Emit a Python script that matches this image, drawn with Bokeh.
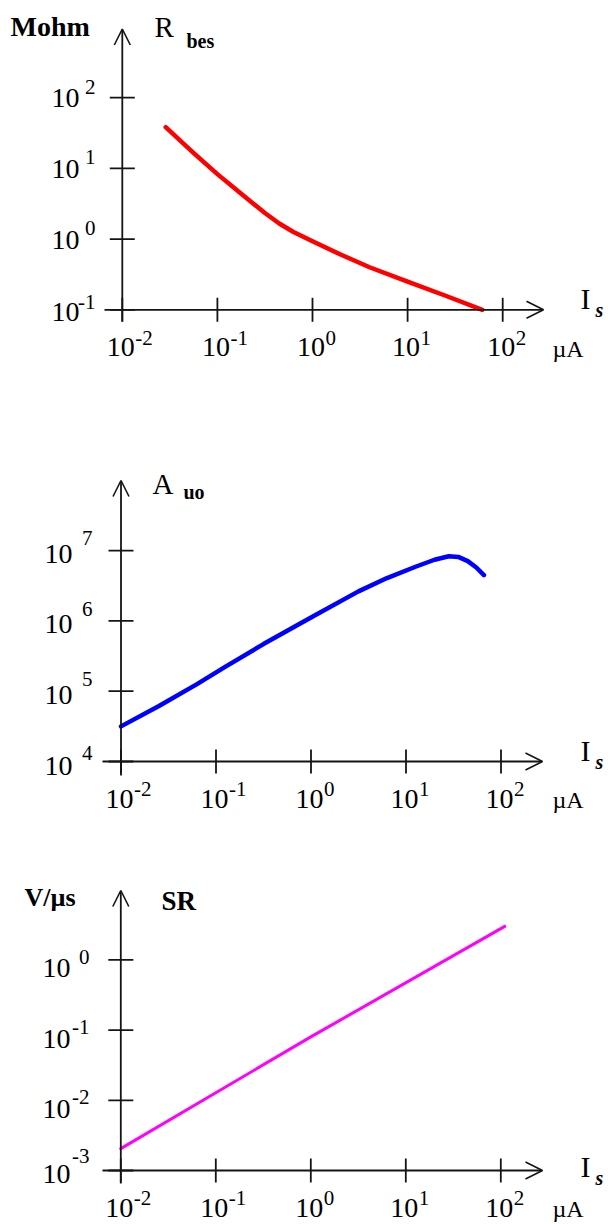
import math
from bokeh.plotting import figure
from bokeh.layouts import column
from bokeh.models import Range1d, Label, Arrow, OpenHead
from bokeh.core.properties import value
from bokeh.embed import file_html
from bokeh.resources import INLINE

# ---------------- data ----------------
x_ticks = [0.01, 0.1, 1, 10, 100]
x_tick_exps = ["-2", "-1", "0", "1", "2"]

# Panel 1: R_bes [Mohm] vs I_s [uA]
rbes_is = [0.0286, 0.056, 0.1, 0.178, 0.316, 0.447, 0.631, 1.0, 2.0, 3.98, 10, 25.1, 61.1]
rbes = [38.3, 16.6, 8.3, 4.37, 2.34, 1.66, 1.26, 0.93, 0.60, 0.40, 0.25, 0.158, 0.10]
rbes_y_ticks = [0.1, 1, 10, 100]
rbes_y_exps = ["-1", "0", "1", "2"]

# Panel 2: A_uo vs I_s [uA]
auo_is = [0.01, 0.0251, 0.0631, 0.126, 0.316, 1.0, 3.16, 6.31, 12.6, 19.95, 28.2, 35.5, 44.7, 55.0, 66.1]
auo = [3.16e4, 6.17e4, 1.26e5, 2.24e5, 4.68e5, 1.12e6, 2.63e6, 4.07e6, 5.89e6, 7.41e6,
       8.32e6, 8.13e6, 7.08e6, 5.75e6, 4.47e6]
auo_y_ticks = [1e4, 1e5, 1e6, 1e7]
auo_y_exps = ["4", "5", "6", "7"]

# Panel 3: SR [V/us] vs I_s [uA]
sr_is = [0.01, 1.0, 110]
sr = [0.00205, 0.08, 3.0]
sr_y_ticks = [1e-3, 1e-2, 1e-1, 1]
sr_y_exps = ["-3", "-2", "-1", "0"]

# ---------------- style / layout ----------------
FONT = "Liberation Serif"
AX = "#141414"
W = 608
ORG = 0      # page origin (Bokeh's page template has no body margin)
KB = 0.34    # baseline correction (fraction of font size)
TEN = 28     # "10" font size
EXP = 21     # exponent font size


def build(top_w, H, x0w, xdec, yb_w, ydec, ytip_w, xtip_w, xleft_w, ybot_w,
          y_ticks, y_exps, ten_right, exp_right, ten_dy, exp_dy, ten_dy0, exp_dy0):
    yb_log = math.log10(y_ticks[0])
    lx_left = math.log10(x_ticks[0]) - (x0w - ORG) / xdec
    lx_right = lx_left + W / xdec
    ly_top = yb_log + (yb_w - top_w) / ydec
    ly_bot = ly_top - H / ydec
    p = figure(width=W, height=H, x_axis_type="log", y_axis_type="log",
               x_axis_location=None, y_axis_location=None,
               x_range=Range1d(10 ** lx_left, 10 ** lx_right),
               y_range=Range1d(10 ** ly_bot, 10 ** ly_top),
               toolbar_location=None, output_backend="svg", min_border=0)
    p.xgrid.grid_line_color = None
    p.ygrid.grid_line_color = None
    p.outline_line_color = None
    p.background_fill_color = "white"
    p.border_fill_color = "white"

    def X(wx):
        return 10 ** (lx_left + (wx - ORG) / xdec)

    def Y(wy):
        return 10 ** (ly_top - (wy - top_w) / ydec)

    x0 = x_ticks[0]
    y0 = y_ticks[0]
    # axes with open arrow heads
    p.add_layout(Arrow(x_start=X(xleft_w), y_start=y0, x_end=X(xtip_w), y_end=y0,
                       end=OpenHead(size=17, line_width=1.6, line_color=AX),
                       line_width=1.8, line_color=AX))
    p.add_layout(Arrow(x_start=x0, y_start=Y(ybot_w), x_end=x0, y_end=Y(ytip_w),
                       end=OpenHead(size=16, line_width=1.6, line_color=AX),
                       line_width=1.8, line_color=AX))
    # crossing tick marks
    p.scatter(x=[x0] * len(y_ticks), y=y_ticks, marker="dash", size=25,
              line_color=AX, line_width=1.8)
    p.scatter(x=x_ticks, y=[y0] * len(x_ticks), marker="dash", angle=math.pi / 2,
              size=24, line_color=AX, line_width=1.8)

    # y tick labels: "10" + exponent
    n = len(y_ticks)
    tdy = [ten_dy0] + [ten_dy] * (n - 1)
    edy = [exp_dy0] + [exp_dy] * (n - 1)
    for i in range(n):
        p.text(x=[x0], y=[y_ticks[i]], text=["10"], x_offset=ten_right - x0w,
               y_offset=tdy[i] - KB * TEN,
               text_align="right", text_baseline="alphabetic",
               text_font=value(FONT), text_font_size=f"{TEN}px", text_color="black")
        p.text(x=[x0], y=[y_ticks[i]], text=[y_exps[i]], x_offset=exp_right - x0w,
               y_offset=edy[i] - KB * EXP,
               text_align="right", text_baseline="alphabetic",
               text_font=value(FONT), text_font_size=f"{EXP}px", text_color="black")

    # x tick labels
    p.text(x=x_ticks, y=[y0] * len(x_ticks), text=["10"] * len(x_ticks),
           x_offset=-1.5, y_offset=47 - KB * TEN, text_align="center", text_baseline="alphabetic",
           text_font=value(FONT), text_font_size=f"{TEN}px", text_color="black")
    p.text(x=x_ticks, y=[y0] * len(x_ticks), text=x_tick_exps,
           x_offset=13, y_offset=35 - KB * EXP, text_align="left", text_baseline="alphabetic",
           text_font=value(FONT), text_font_size=f"{EXP}px", text_color="black")
    return p, X, Y


def lab(p, X, Y, text, wx, wy, size, style="normal", align="left"):
    p.add_layout(Label(x=X(wx), y=Y(wy - KB * size), text=text, text_font=FONT,
                       text_font_size=f"{size}px", text_font_style=style,
                       text_align=align, text_baseline="alphabetic", text_color="black"))


def is_label(p, X, Y, yb_w, dy):
    lab(p, X, Y, "I", 580, yb_w - 1 + dy, 30)
    lab(p, X, Y, "s", 595, yb_w + 7 + dy, 20, "bold italic")
    lab(p, X, Y, "\u00b5A", 552, yb_w + 47, 24)


# ---- Panel 1 ----
p1, X1, Y1 = build(top_w=0, H=400, x0w=121.8, xdec=95.1, yb_w=309.3, ydec=70.7,
                   ytip_w=28.5, xtip_w=543, xleft_w=104, ybot_w=321,
                   y_ticks=rbes_y_ticks, y_exps=rbes_y_exps, ten_right=79, exp_right=95,
                   ten_dy=10, exp_dy=-4, ten_dy0=12, exp_dy0=-1)
p1.line(x=rbes_is, y=rbes, line_color="#ff0000", line_width=4.5,
        line_join="round", line_cap="round")
lab(p1, X1, Y1, "Mohm", 10, 36, 28, "bold")
lab(p1, X1, Y1, "R", 154, 36, 29)
lab(p1, X1, Y1, "bes", 186, 47, 20, "bold")
is_label(p1, X1, Y1, 309.3, 0)

# ---- Panel 2 ----
p2, X2, Y2 = build(top_w=400, H=420, x0w=120.5, xdec=95.0, yb_w=761, ydec=70.3,
                   ytip_w=480, xtip_w=542, xleft_w=102, ybot_w=775,
                   y_ticks=auo_y_ticks, y_exps=auo_y_exps, ten_right=72, exp_right=92,
                   ten_dy=13, exp_dy=-5, ten_dy0=14, exp_dy0=-1)
p2.line(x=auo_is, y=auo, line_color="#0000ff", line_width=4.5,
        line_join="round", line_cap="round")
lab(p2, X2, Y2, "A", 152, 493, 29)
lab(p2, X2, Y2, "uo", 183, 498, 20, "bold")
is_label(p2, X2, Y2, 761, 0)

# ---- Panel 3 ----
p3, X3, Y3 = build(top_w=820, H=404, x0w=120.3, xdec=95.0, yb_w=1170, ydec=70.2,
                   ytip_w=890, xtip_w=542, xleft_w=102, ybot_w=1183,
                   y_ticks=sr_y_ticks, y_exps=sr_y_exps, ten_right=70, exp_right=89,
                   ten_dy=18, exp_dy=4, ten_dy0=13, exp_dy0=-7)
p3.line(x=sr_is, y=sr, line_color="#ff00ff", line_width=3,
        line_join="round", line_cap="round")
lab(p3, X3, Y3, "V/\u00b5s", 24, 906, 26, "bold")
lab(p3, X3, Y3, "SR", 161, 910, 27, "bold")
is_label(p3, X3, Y3, 1170, 7)

layout = column(p1, p2, p3, spacing=0)
open("out.html", "w").write(file_html(layout, INLINE))
